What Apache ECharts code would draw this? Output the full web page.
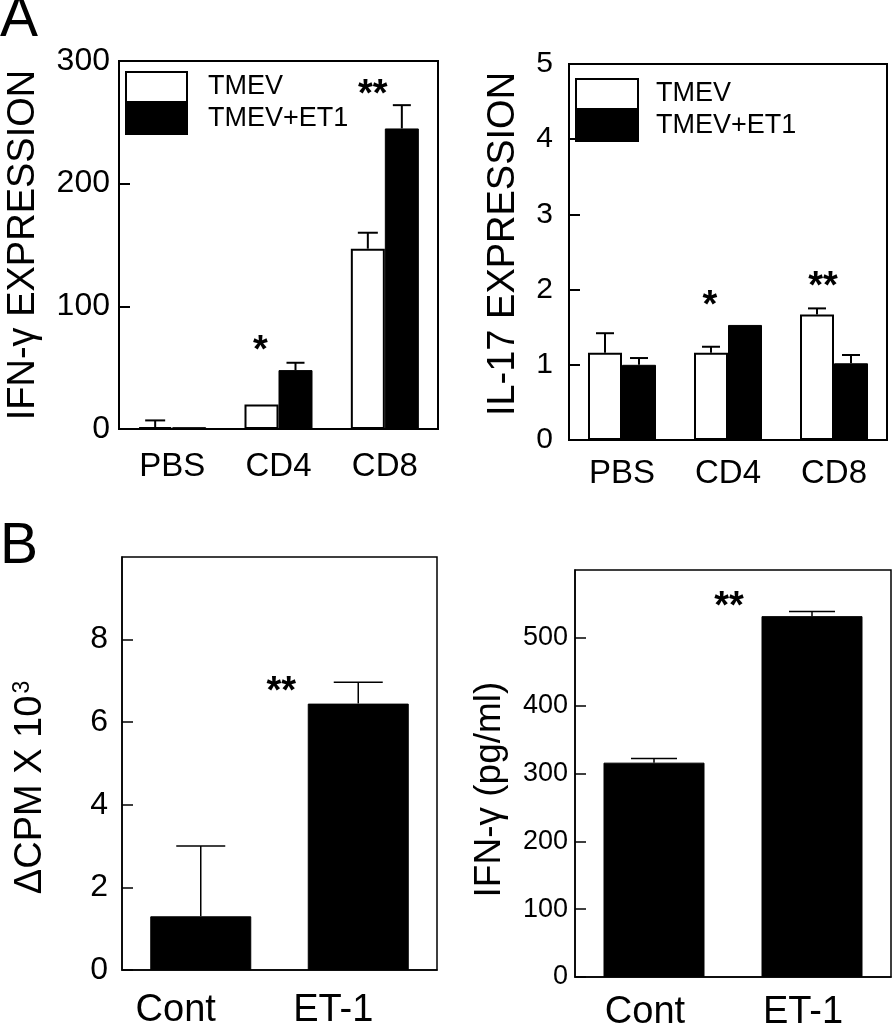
<!DOCTYPE html>
<html><head><meta charset="utf-8">
<script src="https://cdn.jsdelivr.net/npm/echarts@6/dist/echarts.min.js"></script>
<style>html,body{margin:0;padding:0;background:#fff}#c{width:894px;height:1028px}</style>
</head><body><div id="c"></div>
<script>
const FONT = '"Liberation Sans", Arial, Helvetica, sans-serif';

// ---------- Panel A data ----------
const catsA = ['PBS', 'CD4', 'CD8'];
const ifnTmev = [1.5, 20, 147];
const ifnTmevErr = [5.5, 0, 13];
const ifnEt1 = [1.5, 48, 245];
const ifnEt1Err = [0, 6, 19];
const ifnStars = ['', '*', '**'];
const ifnStarY = [null, 63, 272];
const ifnTicks = [0, 100, 200, 300];

const il17Tmev = [1.16, 1.16, 1.67];
const il17TmevErr = [0.26, 0.08, 0.08];
const il17Et1 = [1.0, 1.53, 1.02];
const il17Et1Err = [0.09, 0, 0.11];
const il17Stars = ['', '*', '**'];
const il17StarY = [null, 1.78, 2.03];
const il17Ticks = [0, 1, 2, 3, 4, 5];

// ---------- Panel B data ----------
const catsB = ['Cont', 'ET-1'];
const cpm = [1.3, 6.45];
const cpmErr = [1.7, 0.52];
const cpmStars = ['', '**'];
const cpmStarY = [null, 6.72];
const cpmTicks = [0, 2, 4, 6, 8, 10];

const ifnPg = [316, 532];
const ifnPgErr = [6, 7];
const ifnPgStars = ['', '**'];
const ifnPgStarY = [null, 545];
const ifnPgTicks = [0, 100, 200, 300, 400, 500, 600];

const legendNames = ['TMEV', 'TMEV+ET1'];

// ---------- helpers ----------
function errData(vals, errs, off) {
  const out = [];
  vals.forEach((v, i) => { if (errs[i] > 0) out.push([i, v, errs[i], off]); });
  return out;
}
function errSeries(idx, vals, errs, off, bw, cap, lw) {
  return {
    type: 'custom', xAxisIndex: idx, yAxisIndex: idx, z: 5, silent: true,
    data: errData(vals, errs, off),
    renderItem: function (params, api) {
      const ci = api.value(0), v = api.value(1), e = api.value(2), o = api.value(3);
      const p0 = api.coord([ci, v]);
      const p1 = api.coord([ci, v + e]);
      const x = p0[0] + o * bw / 2;
      const st = { stroke: '#000', lineWidth: lw };
      return { type: 'group', children: [
        { type: 'line', shape: { x1: x, y1: p0[1], x2: x, y2: p1[1] }, style: st },
        { type: 'line', shape: { x1: x - cap / 2, y1: p1[1], x2: x + cap / 2, y2: p1[1] }, style: st }
      ]};
    }
  };
}
function starSeries(idx, stars, ys, dxs, fs) {
  const data = [];
  stars.forEach((s, i) => {
    if (s) data.push({ value: [i, ys[i]], label: { formatter: s, offset: [dxs[i], 0] } });
  });
  return {
    type: 'scatter', xAxisIndex: idx, yAxisIndex: idx, z: 6, silent: true,
    symbolSize: 1, itemStyle: { color: 'rgba(0,0,0,0)', opacity: 1 },
    label: { show: true, position: 'inside', color: '#000', opacity: 1, fontSize: fs, fontWeight: 'bold', fontFamily: FONT },
    data: data
  };
}
function xAx(idx, cats, fs, margin, lw, pad) {
  return {
    type: 'category', gridIndex: idx, data: cats,
    axisLine: { lineStyle: { color: '#000', width: lw } },
    axisTick: { show: false },
    splitLine: { show: false },
    axisLabel: { color: '#000', fontSize: fs, fontFamily: FONT, margin: margin, padding: pad || 0 }
  };
}
function yAx(idx, ticks, fs, margin, lw, showMax, name, nameFs, nameGap, namePad, rich) {
  return {
    type: 'value', gridIndex: idx,
    min: ticks[0], max: ticks[ticks.length - 1], interval: ticks[1] - ticks[0],
    axisLine: { show: true, lineStyle: { color: '#000', width: lw } },
    axisTick: { show: true, inside: true, length: 11, lineStyle: { color: '#000', width: lw } },
    splitLine: { show: false },
    axisLabel: { color: '#000', fontSize: fs, fontFamily: FONT, margin: margin, showMaxLabel: showMax },
    name: name, nameLocation: 'middle', nameRotate: 90, nameGap: nameGap,
    nameTextStyle: { color: '#000', fontSize: nameFs, fontFamily: FONT, padding: namePad || 0, rich: rich }
  };
}
function gridBox(left, top, width, height, lw) {
  return { left: left, top: top, width: width, height: height, show: true,
    borderColor: '#000', borderWidth: lw, backgroundColor: 'transparent', outerBoundsMode: 'none' };
}
function legendBox(left, top, w, padLeft) {
  return {
    data: legendNames, orient: 'vertical', left: left, top: top, padding: 0,
    itemWidth: w, itemHeight: 30, itemGap: 0, icon: 'rect', selectedMode: false,
    textStyle: { color: '#000', fontSize: 27, fontFamily: FONT, padding: [12, 0, 0, padLeft] }
  };
}

const whiteStyle = { color: '#fff', borderColor: '#000', borderWidth: 2 };
const blackStyle = { color: '#000', borderColor: '#000', borderWidth: 1 };
const BW_A = 34, BW_B = 101;

const option = {
  animation: false,
  backgroundColor: '#fff',
  title: [
    { text: 'A', left: 0, top: -8, padding: 0, textStyle: { fontSize: 57, fontWeight: 'normal', fontFamily: FONT, color: '#000' } },
    { text: 'B', left: 0, top: 519, padding: 0, textStyle: { fontSize: 57, fontWeight: 'normal', fontFamily: FONT, color: '#000' } }
  ],
  legend: [legendBox(125, 71, 61, 16), legendBox(575, 78, 62, 13)],
  grid: [
    gridBox(119, 61, 319, 368, 2),
    gridBox(569, 64, 318, 376, 2),
    gridBox(122, 557, 315, 413, 1.5),
    gridBox(575, 570, 316, 407, 1.5)
  ],
  xAxis: [
    xAx(0, catsA, 33, 21, 2),
    xAx(1, catsA, 33, 17, 2),
    xAx(2, catsB, 38, 22, 1.5, [0, 50, 0, 0]),
    xAx(3, catsB, 38, 17, 1.5, [0, 18, 0, 0])
  ],
  yAxis: [
    yAx(0, ifnTicks, 32, 9, 2, true, 'IFN-γ EXPRESSION', 38, 76, 0),
    yAx(1, il17Ticks, 30, 16, 2, true, 'IL-17 EXPRESSION', 38, 46, [0, 0, 0, 16]),
    yAx(2, cpmTicks, 32, 14, 1.5, false, '{n|ΔCPM X 10}{s|3}', 38, 72, [0, 48, 0, 0],
      { n: { fontSize: 38, fontFamily: FONT, color: '#000' },
        s: { fontSize: 23, fontFamily: FONT, color: '#000', verticalAlign: 'top', padding: [0, 0, 16, 2] } }),
    yAx(3, ifnPgTicks, 27, 7, 1.5, false, 'IFN-γ (pg/ml)', 37, 67, [0, 32, 0, 0])
  ],
  series: [
    { name: 'TMEV', type: 'bar', xAxisIndex: 0, yAxisIndex: 0, data: ifnTmev, barWidth: BW_A, barGap: '0%', itemStyle: whiteStyle },
    { name: 'TMEV+ET1', type: 'bar', xAxisIndex: 0, yAxisIndex: 0, data: ifnEt1, barWidth: BW_A, barGap: '0%', itemStyle: blackStyle },
    errSeries(0, ifnTmev, ifnTmevErr, -1, BW_A, 20, 2),
    errSeries(0, ifnEt1, ifnEt1Err, 1, BW_A, 18, 2),
    starSeries(0, ifnStars, ifnStarY, [0, -18, -12], 38),

    { name: 'TMEV', type: 'bar', xAxisIndex: 1, yAxisIndex: 1, data: il17Tmev, barWidth: BW_A, barGap: '0%', itemStyle: whiteStyle },
    { name: 'TMEV+ET1', type: 'bar', xAxisIndex: 1, yAxisIndex: 1, data: il17Et1, barWidth: BW_A, barGap: '0%', itemStyle: blackStyle },
    errSeries(1, il17Tmev, il17TmevErr, -1, BW_A, 18, 2),
    errSeries(1, il17Et1, il17Et1Err, 1, BW_A, 18, 2),
    starSeries(1, il17Stars, il17StarY, [0, -18, -11], 38),

    { name: 'ΔCPM', type: 'bar', xAxisIndex: 2, yAxisIndex: 2, data: cpm, barWidth: BW_B, itemStyle: blackStyle },
    errSeries(2, cpm, cpmErr, 0, BW_B, 49, 1.5),
    starSeries(2, cpmStars, cpmStarY, [0, -77], 38),

    { name: 'IFN-γ', type: 'bar', xAxisIndex: 3, yAxisIndex: 3, data: ifnPg, barWidth: BW_B, itemStyle: blackStyle },
    errSeries(3, ifnPg, ifnPgErr, 0, BW_B, 46, 1.5),
    starSeries(3, ifnPgStars, ifnPgStarY, [0, -83], 38)
  ]
};

const chart = echarts.init(document.getElementById('c'), null, { renderer: 'canvas', width: 894, height: 1028 });
chart.setOption(option);
</script>
</body></html>
